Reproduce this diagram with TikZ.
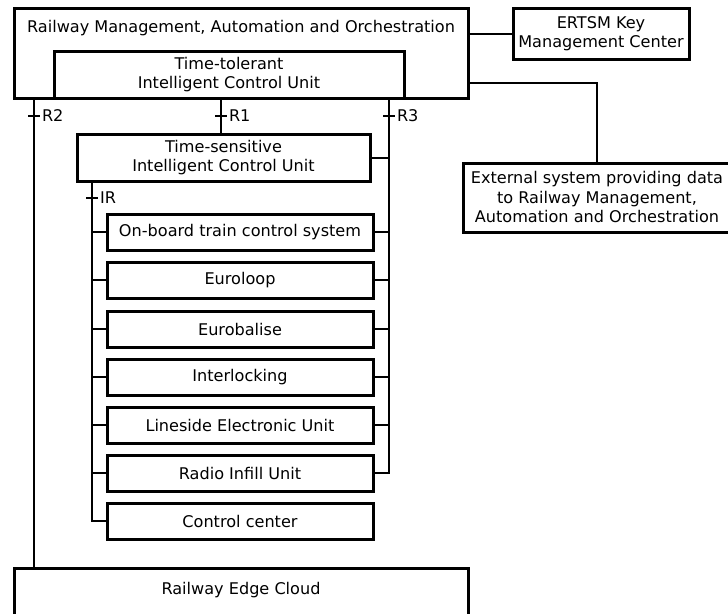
\documentclass[tikz,border=0pt]{standalone}
\usepackage{fontspec}
\setmainfont{DejaVu Sans}
\begin{document}
\begin{tikzpicture}[x=1pt,y=-1pt,
  every node/.style={font=\fontsize{16.1}{19.5}\selectfont, inner sep=0pt, outer sep=0pt},
  box/.style={draw=black, line width=3pt, fill=white, rectangle, anchor=north west},
  label text/.style={align=center},
  wire/.style={draw=black, line width=2pt},
  tick/.style={draw=black, line width=2pt}
]
\useasboundingbox (0,0) rectangle (728,613);
\clip (0,0) rectangle (728,613);

% management layer
\node[box, minimum width=454pt, minimum height=90pt] (rmao) at (14,8) {};
\node[label text] (rmaotitle) at (241,28) {Railway Management, Automation and Orchestration};
\node[box, minimum width=350pt, minimum height=47pt, label text] (ttcu) at (54,51) {Time-tolerant\\Intelligent Control Unit};

% neighbouring systems
\node[box, minimum width=176pt, minimum height=51pt, label text] (ekmc) at (513,8) {ERTSM Key\\Management Center};
\node[box, minimum width=280pt, minimum height=69pt, label text, anchor=north west] (ext) at (463,163) {};
\node[label text] (exttext) at (597,197) {External system providing data\\to Railway Management,\\Automation and Orchestration};

% time-sensitive unit
\node[box, minimum width=293pt, minimum height=47pt, label text] (tscu) at (77,134) {Time-sensitive\\Intelligent Control Unit};

% field components
\foreach \n/\y/\t in {c1/214/On-board train control system,
                     c2/262/Euroloop,
                     c3/311/Eurobalise,
                     c4/359/Interlocking,
                     c5/407/Lineside Electronic Unit,
                     c6/455/Radio Infill Unit,
                     c7/503/Control center}{
  \node[box, minimum width=266pt, minimum height=36pt] (\n) at (107,\y) {\t};
}

% edge cloud
\node[box, minimum width=454pt, minimum height=70pt] (rec) at (14,568) {};
\node (rectext) at (241,590) {Railway Edge Cloud};

% bus positions
\coordinate (r2) at (34,0);
\coordinate (r1) at (221,0);
\coordinate (r3) at (389,0);
\coordinate (ir) at (92,0);
\coordinate (tickrow) at (0,116);
\coordinate (irrow) at (0,198);

% connectors to neighbouring systems
\draw[wire] (rmao.east |- ekmc.west) -- (ekmc.west);
\coordinate (extcorner) at (ext.north -| 597,0);
\draw[wire] (rmao.east |- 0,83) -| (extcorner);

% R2: management to edge cloud
\draw[wire] (rmao.south -| r2) -- (rec.north -| r2);
% R1: time-tolerant to time-sensitive
\draw[wire] (ttcu.south -| r1) -- (tscu.north -| r1);
% R3: time-tolerant to time-sensitive and field components
\draw[wire] (ttcu.south -| r3) |- (c6.east);
\draw[wire] (tscu.east) -- (tscu.east -| r3);
\foreach \n in {c1,c2,c3,c4,c5}{
  \draw[wire] (\n.east) -- (\n.east -| r3);
}
% IR: time-sensitive to field components
\draw[wire] (tscu.south -| ir) |- (c7.west);
\foreach \n in {c1,c2,c3,c4,c5,c6}{
  \draw[wire] (\n.west) -- (\n.west -| ir);
}

% interface ticks and labels
\foreach \c/\t/\r in {r2/R2/tickrow, r1/R1/tickrow, r3/R3/tickrow, ir/IR/irrow}{
  \draw[tick] ([xshift=-6pt]\c |- \r) -- ([xshift=6pt]\c |- \r);
  \node[anchor=west] (lab\t) at ([xshift=8pt]\c |- \r) {\t};
}
\end{tikzpicture}
\end{document}
